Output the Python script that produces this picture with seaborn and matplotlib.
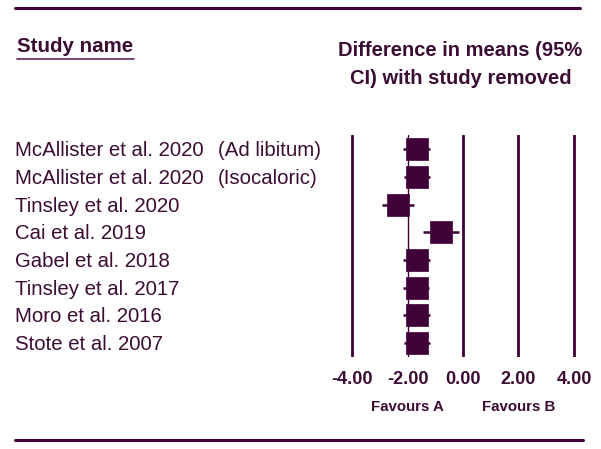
import pandas as pd
import matplotlib.pyplot as plt
import matplotlib.transforms as mtransforms
import seaborn as sns

# study names and leave-one-out estimates
studies = ['McAllister et al. 2020', 'McAllister et al. 2020', 'Tinsley et al. 2020',
           'Cai et al. 2019', 'Gabel et al. 2018', 'Tinsley et al. 2017',
           'Moro et al. 2016', 'Stote et al. 2007']
subgroups = ['(Ad libitum)', '(Isocaloric)', '', '', '', '', '', '']
diff = [-1.67, -1.67, -2.35, -0.79, -1.67, -1.67, -1.67, -1.67]
lower = [-2.15, -2.13, -2.92, -1.45, -2.15, -2.15, -2.15, -2.14]
upper = [-1.19, -1.19, -1.75, -0.14, -1.19, -1.21, -1.19, -1.20]
ticks = [-4, -2, 0, 2, 4]
tick_labels = ['-4.00', '-2.00', '0.00', '2.00', '4.00']

df = pd.DataFrame({'study': studies, 'diff': diff, 'lower': lower, 'upper': upper})
df['row'] = range(len(df))

sns.set_style('white')
plt.rcParams['font.family'] = ['Liberation Sans', 'DejaVu Sans']
txt = '#3b0c34'
mark = '#400038'

fig = plt.figure(figsize=(6.01, 4.49), dpi=100)
ax = fig.add_axes([346.5 / 601, 1 - 357 / 449, 233 / 601, 222 / 449])

# vertical reference lines
for t in ticks:
    ax.axvline(t, color=mark, lw=1.0 if t == -2 else 2.0, zorder=1)

# confidence intervals + squares
ax.hlines(df['row'], df['lower'], df['upper'], color=mark, lw=1.8, zorder=2)
sns.scatterplot(data=df, x='diff', y='row', marker='s', s=245, color=mark,
                edgecolor=mark, linewidth=0.5, ax=ax, zorder=3, legend=False)

ax.set_xlim(-4.2, 4.2)
ax.set_ylim(7.5, -0.52)
ax.set_xticks(ticks)
ax.set_xticklabels(tick_labels, fontsize=13, fontweight='bold', color=txt)
ax.tick_params(axis='x', length=0, pad=10)
ax.set_yticks([])
ax.set_xlabel('')
ax.set_ylabel('')
sns.despine(ax=ax, left=True, bottom=True)

# study labels
tr = mtransforms.blended_transform_factory(fig.transFigure, ax.transData)
for i, (s, g) in enumerate(zip(studies, subgroups)):
    ax.text(15 / 601, i + 0.05, s, transform=tr, ha='left', va='center', fontsize=14.7, color=txt)
    if g:
        ax.text(218 / 601, i + 0.05, g, transform=tr, ha='left', va='center', fontsize=14.7, color=txt)

# favours labels
tr2 = mtransforms.blended_transform_factory(ax.transData, fig.transFigure)
ax.text(-2, 1 - 407 / 449, 'Favours A', transform=tr2, ha='center', va='center',
        fontsize=10.8, fontweight='bold', color=txt)
ax.text(2, 1 - 407 / 449, 'Favours B', transform=tr2, ha='center', va='center',
        fontsize=10.8, fontweight='bold', color=txt)

# headers
fig.text(17 / 601, 1 - 46 / 449, 'Study name', ha='left', va='center',
         fontsize=14.8, fontweight='bold', color=txt)
fig.add_artist(plt.Line2D([17 / 601, 134 / 601], [1 - 59 / 449, 1 - 59 / 449], color='#6a3a66', lw=1.3))
fig.text(460 / 601, 1 - 51 / 449, 'Difference in means (95%', ha='center', va='center',
         fontsize=14.5, fontweight='bold', color=txt)
fig.text(461 / 601, 1 - 78 / 449, 'CI) with study removed', ha='center', va='center',
         fontsize=14.5, fontweight='bold', color=txt)

# top and bottom rules
fig.add_artist(plt.Line2D([15 / 601, 580 / 601], [1 - 8 / 449, 1 - 8 / 449], color=mark, lw=2.2))
fig.add_artist(plt.Line2D([15 / 601, 583 / 601], [1 - 440 / 449, 1 - 440 / 449], color=mark, lw=2.2))

fig.savefig('out.png', dpi=100)
